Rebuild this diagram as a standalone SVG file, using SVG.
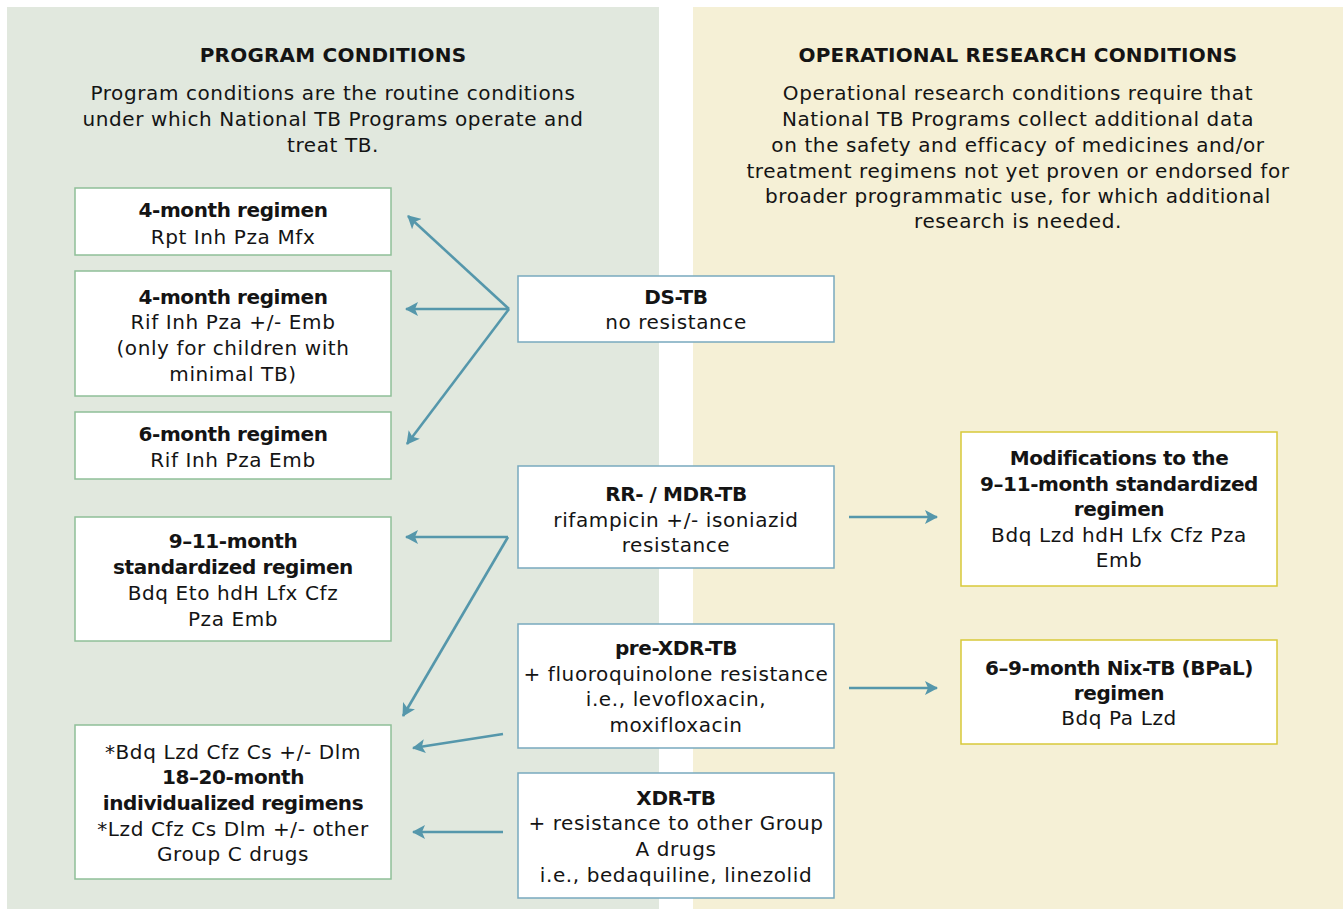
<svg xmlns="http://www.w3.org/2000/svg" width="1343" height="909" viewBox="0 0 1343 909">
<style>
text{font-family:"DejaVu Sans","Liberation Sans",sans-serif;font-size:20px;letter-spacing:0.6px;fill:#141414;text-anchor:middle}
.b{font-weight:bold;letter-spacing:-0.4px}
.h{font-weight:bold;letter-spacing:0.2px}
.lb{fill:#fff;stroke:#8fbf98;stroke-width:1.5}
.mb{fill:#fff;stroke:#78a9be;stroke-width:1.5}
.rb{fill:#fff;stroke:#d8c93a;stroke-width:1.5}
.c{fill:none;stroke:#5597ab;stroke-width:2.6}
</style>
<defs>
<marker id="ah" markerUnits="userSpaceOnUse" markerWidth="14" markerHeight="14" viewBox="0 0 14 14" refX="12" refY="7" orient="auto">
<path d="M0,0 L13,7 L0,14 L3,7 Z" fill="#5597ab"/>
</marker>
</defs>
<rect x="0" y="0" width="1343" height="909" fill="#fff"/>
<rect x="7" y="7" width="652" height="902" fill="#e1e8de"/>
<rect x="693" y="7" width="650" height="902" fill="#f5f0d6"/>
<g id="left-header">
<text class="h" x="333" y="62">PROGRAM CONDITIONS</text>
<text x="333" y="100">Program conditions are the routine conditions</text>
<text x="333" y="126">under which National TB Programs operate and</text>
<text x="333" y="152">treat TB.</text>
</g>
<g id="right-header">
<text class="h" x="1018" y="62">OPERATIONAL RESEARCH CONDITIONS</text>
<text x="1018" y="100">Operational research conditions require that</text>
<text x="1018" y="126">National TB Programs collect additional data</text>
<text x="1018" y="152">on the safety and efficacy of medicines and/or</text>
<text x="1018" y="178">treatment regimens not yet proven or endorsed for</text>
<text x="1018" y="203">broader programmatic use, for which additional</text>
<text x="1018" y="228">research is needed.</text>
</g>
<g id="n-4m-rpt">
<rect class="lb" x="75" y="188" width="316" height="67"/>
<text class="b" x="233" y="217">4-month regimen</text>
<text x="233" y="244">Rpt Inh Pza Mfx</text>
</g>
<g id="n-4m-rif">
<rect class="lb" x="75" y="271" width="316" height="125"/>
<text class="b" x="233" y="304">4-month regimen</text>
<text x="233" y="329">Rif Inh Pza +/- Emb</text>
<text x="233" y="355">(only for children with</text>
<text x="233" y="381">minimal TB)</text>
</g>
<g id="n-6m">
<rect class="lb" x="75" y="412" width="316" height="67"/>
<text class="b" x="233" y="441">6-month regimen</text>
<text x="233" y="467">Rif Inh Pza Emb</text>
</g>
<g id="n-9-11m">
<rect class="lb" x="75" y="517" width="316" height="124"/>
<text class="b" x="233" y="548">9–11-month</text>
<text class="b" x="233" y="574">standardized regimen</text>
<text x="233" y="600">Bdq Eto hdH Lfx Cfz</text>
<text x="233" y="626">Pza Emb</text>
</g>
<g id="n-18-20m">
<rect class="lb" x="75" y="725" width="316" height="154"/>
<text x="233" y="759">*Bdq Lzd Cfz Cs +/- Dlm</text>
<text class="b" x="233" y="784">18–20-month</text>
<text class="b" x="233" y="810">individualized regimens</text>
<text x="233" y="836">*Lzd Cfz Cs Dlm +/- other</text>
<text x="233" y="861">Group C drugs</text>
</g>
<g id="n-ds">
<rect class="mb" x="518" y="276" width="316" height="66"/>
<text class="b" x="676" y="304">DS-TB</text>
<text x="676" y="329">no resistance</text>
</g>
<g id="n-rr">
<rect class="mb" x="518" y="466" width="316" height="102"/>
<text class="b" x="676" y="501">RR- / MDR-TB</text>
<text x="676" y="527">rifampicin +/- isoniazid</text>
<text x="676" y="552">resistance</text>
</g>
<g id="n-prexdr">
<rect class="mb" x="518" y="624" width="316" height="124"/>
<text class="b" x="676" y="655">pre-XDR-TB</text>
<text x="676" y="681">+ fluoroquinolone resistance</text>
<text x="676" y="706">i.e., levofloxacin,</text>
<text x="676" y="732">moxifloxacin</text>
</g>
<g id="n-xdr">
<rect class="mb" x="518" y="773" width="316" height="125"/>
<text class="b" x="676" y="805">XDR-TB</text>
<text x="676" y="830">+ resistance to other Group</text>
<text x="676" y="856">A drugs</text>
<text x="676" y="882">i.e., bedaquiline, linezolid</text>
</g>
<g id="n-mod">
<rect class="rb" x="961" y="432" width="316" height="154"/>
<text class="b" x="1119" y="465">Modifications to the</text>
<text class="b" x="1119" y="491">9–11-month standardized</text>
<text class="b" x="1119" y="516">regimen</text>
<text x="1119" y="542">Bdq Lzd hdH Lfx Cfz Pza</text>
<text x="1119" y="567">Emb</text>
</g>
<g id="n-nix">
<rect class="rb" x="961" y="640" width="316" height="104"/>
<text class="b" x="1119" y="675">6–9-month Nix-TB (BPaL)</text>
<text class="b" x="1119" y="700">regimen</text>
<text x="1119" y="725">Bdq Pa Lzd</text>
</g>
<g id="connectors">
<line class="c" x1="509" y1="309" x2="408" y2="216" marker-end="url(#ah)"/>
<line class="c" x1="509" y1="309" x2="406" y2="309" marker-end="url(#ah)"/>
<line class="c" x1="509" y1="309" x2="407" y2="444" marker-end="url(#ah)"/>
<line class="c" x1="508" y1="537" x2="406" y2="537" marker-end="url(#ah)"/>
<line class="c" x1="508" y1="537" x2="403" y2="716" marker-end="url(#ah)"/>
<line class="c" x1="503" y1="734" x2="413" y2="748" marker-end="url(#ah)"/>
<line class="c" x1="503" y1="832" x2="413" y2="832" marker-end="url(#ah)"/>
<line class="c" x1="849" y1="517" x2="937" y2="517" marker-end="url(#ah)"/>
<line class="c" x1="849" y1="688" x2="937" y2="688" marker-end="url(#ah)"/>
</g>
</svg>
